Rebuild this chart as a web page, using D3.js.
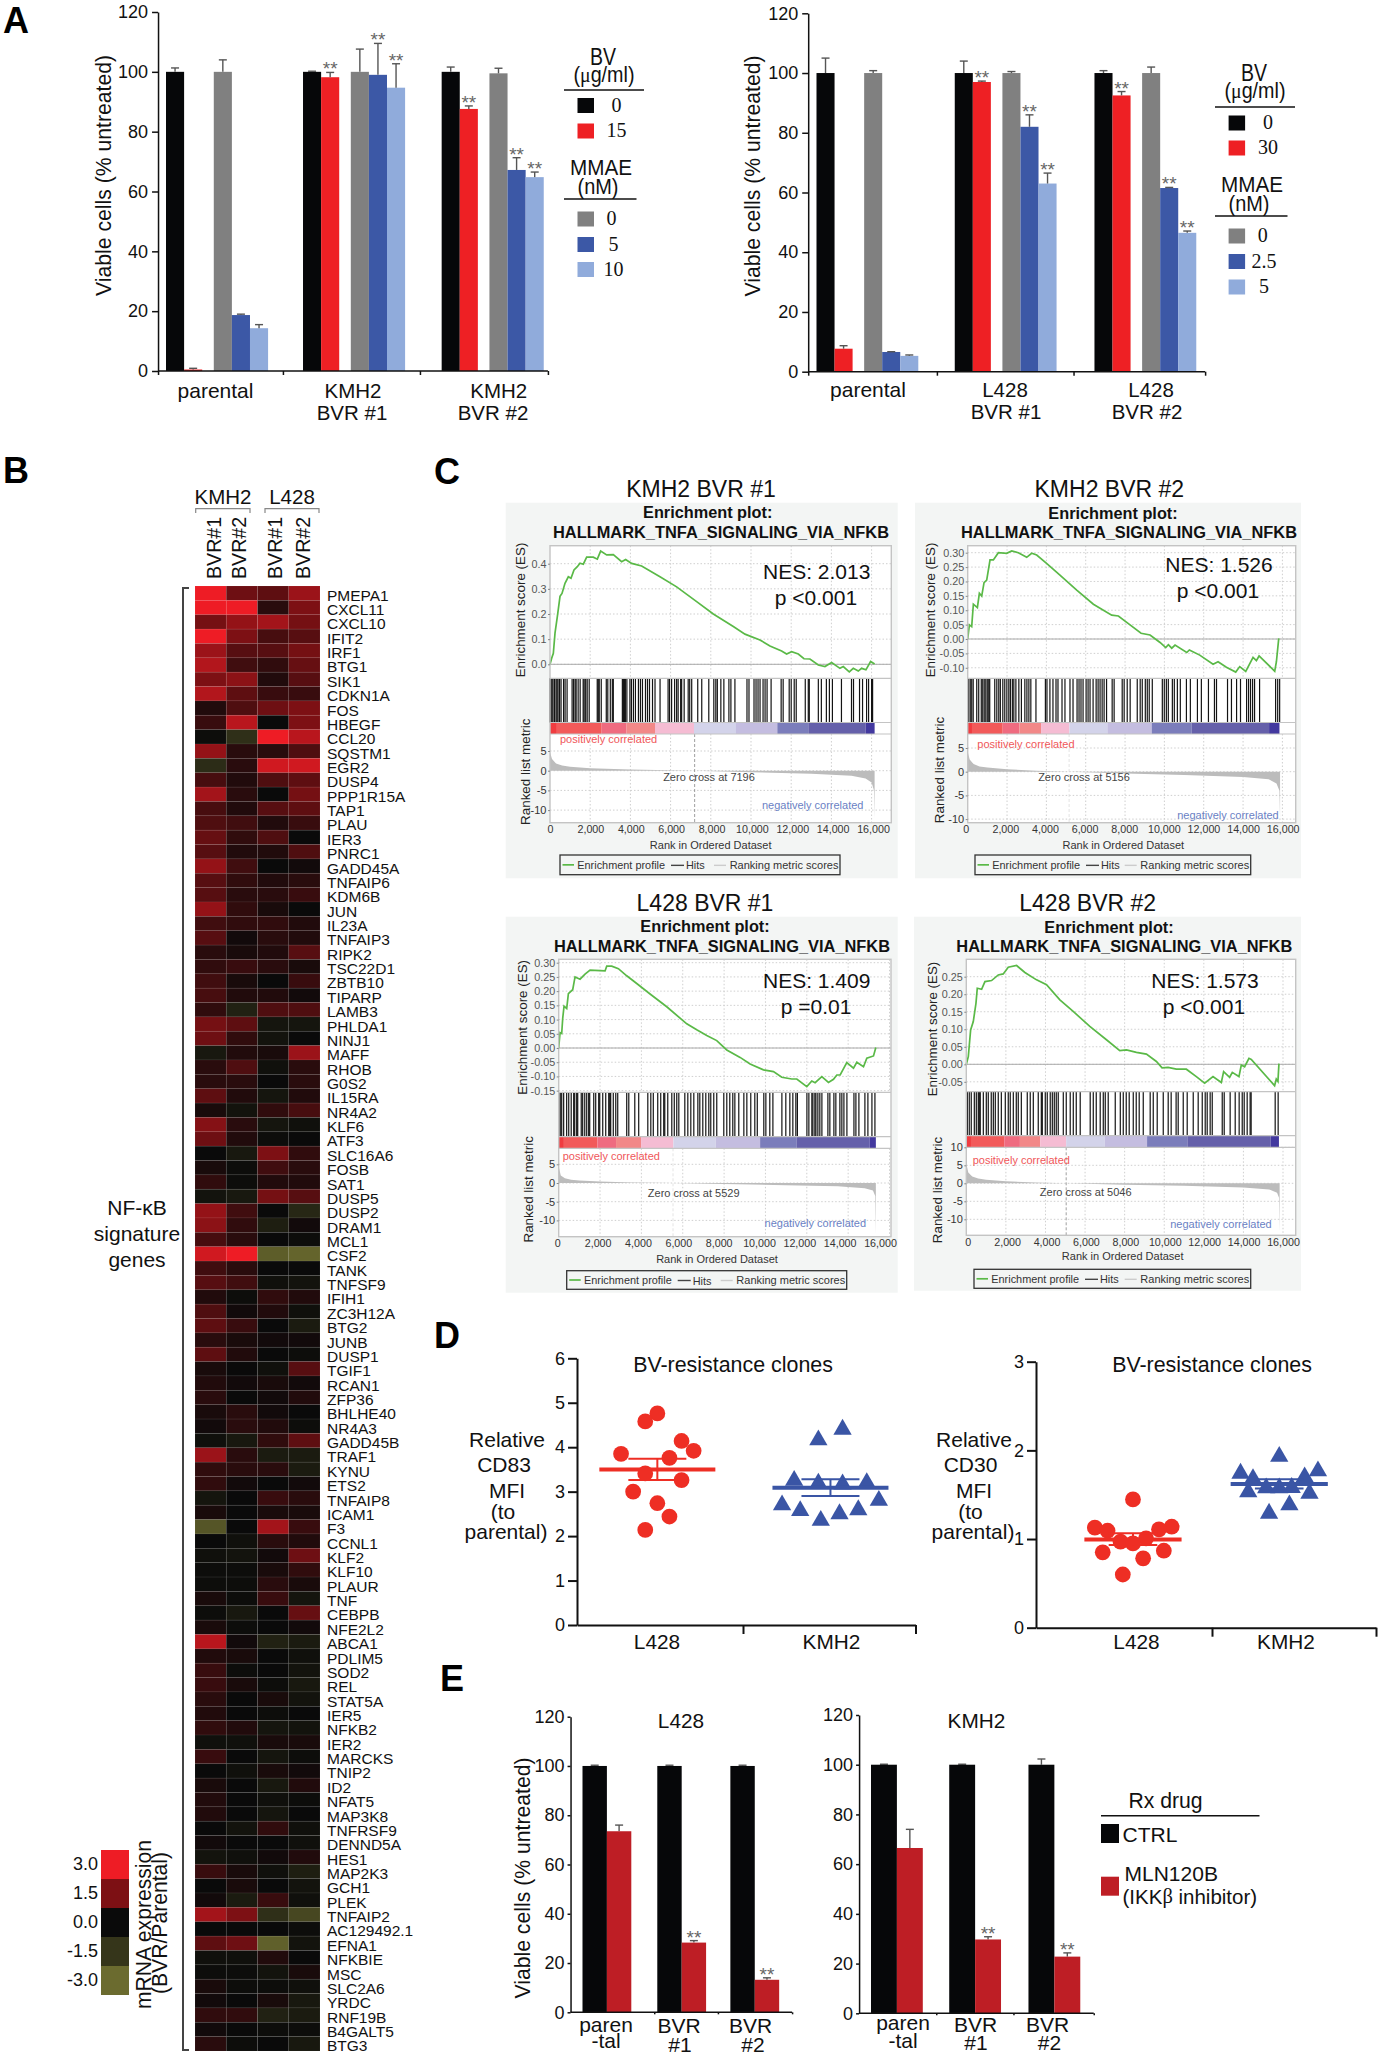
<!DOCTYPE html>
<html><head><meta charset="utf-8">
<style>html,body{margin:0;padding:0;background:#fff}svg{display:block}text{font-family:"Liberation Sans",Arial,sans-serif;fill:#111}</style>
<script src="https://cdn.jsdelivr.net/npm/d3@7/dist/d3.min.js"></script></head><body>
<script>
// ---------- Panel A data ----------
const seriesColors=["#060709","#ee2024","#808080","#3c58a6","#90abdb"];
const kmh2Values=[[100,0.5,100,18.7,14.3],[100,98.2,100,99,94.7],[100,87.6,99.5,67.2,64.8]];
const kmh2ErrTop=[[101.3,0.9,104,19,15.5],[100.2,99.8,107.6,109.5,102.7],[101.6,88.6,101.2,71.3,66.5]];
const kmh2Stars=[[],[1,3,4],[1,3,4]];
const l428Values=[[100,7.7,100,6.6,5.3],[100,97,100,82,63],[100,92.5,100,61.5,46.5]];
const l428ErrTop=[[105,8.7,100.8,6.7,5.6],[104,97.3,100.5,86,66.5],[100.8,93.8,102,61.7,47.1]];
const l428Stars=[[],[1,3,4],[1,3,4]];
const barTicks=[0,20,40,60,80,100,120];
// ---------- Panel B data ----------
const genes=["PMEPA1","CXCL11","CXCL10","IFIT2","IRF1","BTG1","SIK1","CDKN1A","FOS","HBEGF","CCL20","SQSTM1","EGR2","DUSP4","PPP1R15A","TAP1","PLAU","IER3","PNRC1","GADD45A","TNFAIP6","KDM6B","JUN","IL23A","TNFAIP3","RIPK2","TSC22D1","ZBTB10","TIPARP","LAMB3","PHLDA1","NINJ1","MAFF","RHOB","G0S2","IL15RA","NR4A2","KLF6","ATF3","SLC16A6","FOSB","SAT1","DUSP5","DUSP2","DRAM1","MCL1","CSF2","TANK","TNFSF9","IFIH1","ZC3H12A","BTG2","JUNB","DUSP1","TGIF1","RCAN1","ZFP36","BHLHE40","NR4A3","GADD45B","TRAF1","KYNU","ETS2","TNFAIP8","ICAM1","F3","CCNL1","KLF2","KLF10","PLAUR","TNF","CEBPB","NFE2L2","ABCA1","PDLIM5","SOD2","REL","STAT5A","IER5","NFKB2","IER2","MARCKS","TNIP2","ID2","NFAT5","MAP3K8","TNFRSF9","DENND5A","HES1","MAP2K3","GCH1","PLEK","TNFAIP2","AC129492.1","EFNA1","NFKBIE","MSC","SLC2A6","YRDC","RNF19B","B4GALT5","BTG3"];
const heatKmh2Bvr1=[3,3,1.4,3,1.9,2.2,1.5,2.2,.3,.6,-.1,1.8,-1.2,.8,2,.8,.9,1.2,1,1.8,1,1,1.8,.7,1,.4,.5,.7,.8,.5,1.4,1.3,-.5,.4,.4,1.1,.2,1.6,1.3,0,.2,.5,-.3,1.8,1.7,.8,2.6,.7,1,.3,.9,1.1,.4,1.1,.2,.3,.4,.2,.1,-.2,1.9,.5,.5,-.4,.2,-2.4,0,-.2,-.1,-.1,.2,-.1,.2,2.3,.3,.6,.6,.4,.3,.5,-.2,.6,0,.2,.3,.3,0,.1,-.3,.6,0,.1,2,0,1.1,-.2,-.1,.2,.1,.5,.1,.4];
const heatKmh2Bvr2=[1.3,3,1.8,1.5,1,.7,1.7,1.1,.9,2.3,-1.3,.4,.4,.3,.4,.3,.7,.5,.3,.7,.5,.4,.5,.5,.1,.2,.6,.2,.3,-.8,1.1,.5,.3,.9,.4,.3,-.3,.4,.3,-.5,-.1,-.1,-.5,.7,.5,.4,3,.4,.7,-.1,.1,.6,.2,.3,0,.1,0,.4,.4,-.5,.4,.4,.1,0,0,0,-.2,-.3,-.1,-.1,-.1,-.5,-.1,.1,.2,-.1,.2,0,0,.3,-.2,0,-.2,0,0,0,-.3,0,-.2,.2,.2,-.6,1.5,0,1.3,-.2,-.1,-.1,0,.5,0,-.1];
const heatL428Bvr1=[1.1,.4,2,.8,1,.5,.3,.6,1.3,0,3,.4,2.6,.9,0,1,.3,.9,.3,0,.3,.4,.2,.5,.4,.3,.4,0,.3,.9,-.4,-.3,.2,-.2,0,-.4,.5,-.4,-.1,1.5,.7,.3,1.4,0,-.7,0,-2.6,0,-.2,.5,.3,0,.1,0,-.2,.2,.1,.1,.3,.5,-.6,.4,0,.6,.2,2,.4,.1,.2,.4,.6,0,0,-.8,0,0,-.1,.2,-.1,-.4,.2,-.4,.2,-.5,-.2,-.4,.5,0,.1,-.2,0,.6,-1.3,0,-2.7,.3,-.3,-.1,.2,-.8,-.1,0];
const heatL428Bvr2=[1.9,1.5,1.4,1,1.4,1.2,1,.6,1.5,1.5,2.3,.9,2.6,1.1,1.4,1.1,.6,0,.9,.1,.4,.6,0,.3,.3,1,.2,.6,.1,.9,-.4,0,1.9,.4,.4,.3,.8,-.2,0,.5,.4,.3,1,-1,.1,-.1,-2.8,0,-.3,.3,-.2,-.6,.1,-.1,1,.1,.3,0,-.1,1.1,-.6,-.6,.1,.4,.2,.6,.3,1.3,.5,.2,-.4,1.2,.1,-.6,-.2,-.3,-.5,-.3,0,-.3,.2,-.1,.1,.3,-.1,0,-.2,-.2,.3,-.7,-.3,-.2,-2,-.1,-.3,0,.2,-.2,-.5,-.6,-.1,-.5];
const heatColumns=["BVR#1","BVR#2","BVR#1","BVR#2"];
const heatLegendLevels=[3,1.5,0,-1.5,-3];
// ---------- Panel C data ----------
const barSegmentColors=["#f25a5a","#ef6b80","#f28888","#f5bcd3","#d3d3ea","#c4bde0","#7b7dbb","#6560aa","#43399f"];
const p1Rank=[0,83,166,249,365,498,597,746,912,1045,1194,1359,1492,1658,1824,2155,2354,2520,2819,3150,3564,3763,4062,4559,5472,6301,7296,8125,9120,9700,10445,10943,11523,11772,12021,12353,12635,12933,13348,13679,14011,14425,14591,14889,15088,15337,15503,15718,15950,16150];
const p1Es=[0,.024,.044,.124,.19,.27,.282,.322,.348,.342,.375,.388,.402,.398,.426,.426,.418,.45,.435,.436,.408,.417,.401,.391,.348,.308,.249,.2,.15,.12,.097,.073,.053,.041,.05,.041,.022,.021,-.003,-.009,.007,-.016,-.009,-.03,-.016,-.027,-.016,-.022,.011,.001];
const p1Hits=[0,50,100,150,225,300,350,400,475,550,675,750,850,1100,1175,1250,1300,1400,1500,1650,1700,1775,1850,1950,2350,2400,2450,2550,2800,2875,3000,3100,3150,3600,3650,3700,3750,3825,3975,4050,4150,4250,4400,4500,4600,4750,4850,4950,5100,5225,5475,5875,5950,6050,6200,6300,6375,6500,6550,6675,6875,6950,7050,7350,7550,7900,8150,8250,8325,8500,8650,8900,9000,9200,9800,9900,10150,10250,10350,10450,10600,10700,10800,11000,11500,11600,11900,12000,12150,12250,12700,12850,12900,13350,13500,13750,13900,14050,14500,15000,15100,15400,15550,15750,15850,16000,16050];
const p1Segments=[0,2570,3810,5224,7163,9253,11309,12850,15705,16150];
const p1MetricRank=[0,100,300,600,1000,2000,4000,7196,10000,13000,15000,15700,16000,16120,16150];
const p1Metric=[4.7,3,1.8,1.3,1,.65,.3,0,-.4,-.8,-1.3,-2,-3,-5,-12];

const p2Rank=[0,85,203,288,492,593,712,831,966,1136,1305,1559,1983,2237,2576,3000,3254,3508,4010,4690,5543,6390,7322,7661,8254,8813,9271,9780,10068,10203,10373,10542,11136,11271,11797,12475,12729,13153,13627,13831,14136,14508,14678,14814,15610,15695,15814];
const p2Es=[0,.049,.043,.121,.109,.159,.149,.196,.205,.275,.275,.3,.298,.306,.3,.284,.298,.292,.263,.222,.17,.121,.083,.08,.049,.02,.014,-.012,-.03,-.02,-.032,-.021,-.047,-.038,-.056,-.088,-.079,-.098,-.115,-.096,-.113,-.064,-.075,-.059,-.112,-.079,.002];
const p2Hits=[0,50,130,205,280,460,560,690,765,840,920,995,1070,1120,1375,1480,1580,1660,1785,1885,1990,2090,2170,2270,2345,2450,2600,2730,2905,3010,3110,3210,3470,3950,4030,4180,4335,4490,4590,4795,4945,5200,5355,5560,5660,5760,5865,6020,6120,6220,6375,6530,6630,6730,6835,6935,7060,7345,7445,7855,7955,8110,8260,8620,8770,8875,9030,9130,9230,9385,9895,9995,10100,10200,10405,10505,10660,10810,11120,11320,11680,11880,12240,12545,12650,13210,13410,13670,13870,14180,14280,14380,14485,14585,14840,15655,15760,15860];
const p2Segments=[0,1780,2630,3730,5170,7100,9356,11390,15323,15850];
const p2MetricRank=[0,100,300,600,1000,2000,3500,5156,8000,11000,14000,15300,15700,15850,15881];
const p2Metric=[4.2,2.6,1.6,1.1,.9,.5,.2,0,-.4,-.7,-1.1,-1.6,-2.5,-4,-10];

const p3Rank=[0,65,145,194,258,387,468,677,790,1032,1274,1516,2000,2242,2323,2565,2887,3290,3774,4419,5226,6194,6677,7161,7645,8129,8774,9258,9903,10387,10790,11274,11516,12000,12242,12403,12726,13048,13290,13452,13613,13935,14258,14419,14742,14903,15226,15340];
const p3Es=[0,.054,.051,.104,.147,.139,.191,.205,.25,.242,.26,.274,.272,.271,.288,.288,.279,.254,.227,.19,.145,.085,.064,.044,.026,-.007,-.033,-.056,-.077,-.083,-.103,-.109,-.109,-.136,-.116,-.122,-.101,-.121,-.11,-.095,-.095,-.051,-.071,-.05,-.066,-.036,-.028,.002];
const p3Hits=[0,75,145,240,385,485,605,725,775,870,920,1090,1160,1260,1355,1450,1500,1695,1790,1935,1985,2130,2275,2420,2470,2515,2640,2760,2855,3290,3390,3680,3870,4310,4455,4575,4790,4935,5080,5130,5275,5470,5590,5710,5810,6100,6245,6390,6535,6730,6825,6970,7115,7260,7355,7500,7645,7985,8130,8275,8420,8520,8710,8955,9100,9290,9485,9605,9920,10020,10210,10360,10795,10985,11180,11325,11470,11545,12005,12100,12245,12295,12390,12440,12535,12630,12730,13020,13115,13310,13405,13600,13695,13795,13940,14280,14375,14520,14810,14955,15150,15295];
const p3Segments=[0,1871,2774,3984,5548,7597,9742,11516,15032,15340];
const p3MetricRank=[0,100,300,600,1000,2000,3500,5529,8000,11000,13500,14800,15200,15310,15340];
const p3Metric=[4.4,2,1.3,.9,.7,.4,.15,0,-.3,-.6,-.9,-1.4,-2,-3.5,-13.5];

const p4Rank=[0,101,219,353,488,555,774,942,1278,1615,1867,2119,2540,2960,3549,4054,4727,5400,6240,7081,7754,8091,8595,9100,9604,9890,10193,10613,11118,11622,12043,12463,12884,13001,13304,13439,13775,13893,14061,14280,14398,15576,15660,15744,15795];
const p4Es=[0,.022,.098,.122,.174,.217,.214,.236,.239,.255,.258,.277,.282,.262,.241,.227,.184,.151,.108,.07,.039,.041,.034,.029,.008,-.01,-.009,-.014,-.014,-.035,-.054,-.035,-.052,-.021,-.037,-.023,-.035,-.002,-.007,.017,.014,-.061,-.042,-.049,.002];
const p4Hits=[50,150,250,405,505,605,655,705,860,1010,1110,1260,1365,1465,1615,1770,1970,2120,2220,2375,2525,2625,2780,3080,3230,3385,3635,3790,3840,3990,4090,4240,4345,4445,4545,4645,4900,5050,5250,5405,5555,5755,6260,6415,6565,6765,6920,7020,7170,7525,7780,7930,8080,8230,8435,8585,8735,8940,9290,9445,9645,9950,10200,10350,10600,10705,10960,11160,11465,11715,11920,12070,12170,12320,12425,12930,13030,13330,13585,13785,13940,14040,14190,14340,14390,15605,15755];
const p4Segments=[0,1917,2708,3734,5046,7000,9133,11168,15373,15795];
const p4MetricRank=[0,100,300,600,1000,2000,3500,5046,8000,11000,14000,15300,15700,15800,15830];
const p4Metric=[5.6,3,1.9,1.3,1,.6,.2,0,-.4,-.7,-1.2,-1.7,-2.6,-4,-13.5];
const rankTicks=[0,2000,4000,6000,8000,10000,12000,14000,16000];
// ---------- Panel D data ----------
const cd83L428=[4.76,4.58,4.14,3.92,3.85,3.76,3.41,3.26,3.0,2.74,2.44,2.14];
const cd83L428Slot=[0,-1,2,3,-3,1,-1,2,-2,0,1,-1];
const cd83Kmh2=[4.40,4.16,3.25,3.19,3.17,3.2,2.7,2.8,2.57,2.59,2.5,2.35];
const cd83Kmh2Slot=[1,-1,-3,-1,1,3,-4,4,-2.5,2.3,.75,-.8];
const cd30L428=[1.447,1.128,1.094,1.139,1.109,1.008,.97,.951,.85,.868,.782,.6];
const cd30L428Slot=[0,-3.15,-2.1,3.2,2.15,1.08,-1.03,0,-2.5,2.55,.84,-.84];
const cd30Kmh2=[1.93,1.74,1.767,1.68,1.7,1.575,1.575,1.58,1.53,1.515,1.383,1.289];
const cd30Kmh2Slot=[0,-3.2,3.2,-2.17,2.1,-1.08,0,1.03,-2.56,2.5,.84,-.84];
const cd83Stats=[[3.5,3.26,3.74],[3.09,2.9,3.28]];
const cd30Stats=[[.996,.932,1.064],[1.62,1.571,1.673]];
// ---------- Panel E data ----------
const eGroups=[["paren","-tal"],["BVR","#1"],["BVR","#2"]];
const eL428Values=[[100,73.5],[100,28.3],[100,13.2]];
const eL428Err=[[100.3,76],[100.3,29.1],[100.3,14]];
const eKmh2Values=[[100,66.5],[100,29.7],[100,22.8]];
const eKmh2Err=[[100.2,74],[100.2,30.8],[102.3,24.3]];
const eColors=["#060709","#be1e25"];

// ---------- helpers ----------
const fmt=f=>{const h=d3.format(f);return d=>h(d).replace("\u2212","-");};
const svg=d3.select("body").append("svg").attr("width",1380).attr("height",2054).attr("viewBox","0 0 1380 2054");
svg.append("rect").attr("width",1380).attr("height",2054).attr("fill","#fff");
function T(x,y,s,o={}){
  const t=svg.append("text").attr("x",x).attr("y",y).attr("dominant-baseline","central")
    .attr("text-anchor",o.a||"middle").attr("font-size",o.s||20).text(s);
  if(o.w)t.attr("font-weight",o.w);
  if(o.c)t.style("fill",o.c);
  if(o.f)t.style("font-family",o.f);
  if(o.r)t.attr("transform",`rotate(${o.r} ${x} ${y})`);
  if(o.tl)t.attr("textLength",o.tl).attr("lengthAdjust","spacingAndGlyphs");
  return t;
}
const SERIF='"Liberation Serif",serif';
function line(x1,y1,x2,y2,c="#111",w=1.5){svg.append("line").attr("x1",x1).attr("y1",y1).attr("x2",x2).attr("y2",y2).attr("stroke",c).attr("stroke-width",w);}
function styleAxis(g,size,w=1.5){g.selectAll("path,line").attr("stroke","#111").attr("stroke-width",w);g.selectAll("text").attr("font-size",size).style("fill","#111");}
[["A",16,20],["B",16,470],["C",447,471],["D",447,1335],["E",452,1678]].forEach(d=>T(d[1],d[2],d[0],{s:36,w:"bold",c:"#000"}));

// ---------- grouped bars ----------
function bars(c){
  const g=svg.append("g");
  const x=d3.scaleLinear().domain([0,1]).range([c.x0,c.x0+c.slot]);
  const y=d3.scaleLinear().domain([0,120]).range([c.y0,c.y120]);
  c.values.forEach((vals,i)=>vals.forEach((v,j)=>{
    const left=x(c.groupSlots[i]+c.seriesSlots[j]), cx=left+c.slot/2, err=c.err[i][j];
    line(cx,y(v),cx,y(err),"#555",1.4);
    line(cx-4,y(err),cx+4,y(err),"#555",1.4);
    g.append("rect").attr("x",left).attr("width",c.slot).attr("y",y(v)).attr("height",y(0)-y(v)).attr("fill",c.colors[j]);
    if(c.stars[i].includes(j))T(cx,y(err)+3,"**",{s:19,c:"#666"}).attr("dominant-baseline","auto");
  }));
  const gy=svg.append("g").attr("transform",`translate(${x(c.axisL)},0)`).call(d3.axisLeft(y).tickValues(barTicks).tickSize(6).tickSizeOuter(0).tickPadding(c.pad||3));
  styleAxis(gy,18);
  const gx=svg.append("g").attr("transform",`translate(0,${y(0)})`).call(d3.axisBottom(x).tickValues(c.xTicks).tickSize(4).tickSizeOuter(0).tickFormat(""));
  styleAxis(gx,18);
  gx.select("path").attr("d",`M${x(c.axisL)},0H${x(c.xTicks[c.xTicks.length-1])}`);
}
const s5=[0,1,2.64,3.64,4.64];
bars({x0:166,slot:18.1,y0:371,y120:12,values:kmh2Values,err:kmh2ErrTop,stars:kmh2Stars,colors:seriesColors,groupSlots:[0,7.57,15.23],seriesSlots:s5,axisL:-.44,xTicks:[-.44,6.46,14.03,21.1],pad:4});
bars({x0:816.5,slot:18.05,y0:371.7,y120:13.3,values:l428Values,err:l428ErrTop,stars:l428Stars,colors:seriesColors,groupSlots:[0,7.66,15.4],seriesSlots:s5,axisL:-.46,xTicks:[-.46,6.67,14.24,21.53],pad:4});
T(103,175.5,"Viable cells (% untreated)",{s:21.2,r:-90});
T(752,176,"Viable cells (% untreated)",{s:21.2,r:-90});
T(215.5,390,"parental",{s:21});T(353,390,"KMH2",{s:20.5});T(352,412,"BVR #1",{s:20.5});T(498.7,390,"KMH2",{s:20.5});T(493,412,"BVR #2",{s:20.5});
T(868,389,"parental",{s:21});T(1005,389,"L428",{s:20.5});T(1006,411,"BVR #1",{s:20.5});T(1151,389,"L428",{s:20.5});T(1147,411,"BVR #2",{s:20.5});
function mu(x,y){const t=T(x,y,"",{s:22});t.append("tspan").text("(");t.append("tspan").style("font-family",SERIF).text("μ");t.append("tspan").text("g/ml)");t.attr("textLength",61).attr("lengthAdjust","spacingAndGlyphs");}
function barLegend(o){
  T(o.bx,o.by,"BV",{s:23,tl:26});mu(o.bx+1,o.by+17);
  line(o.rx,o.r1,o.rx+80,o.r1,"#111",1.6);
  T(o.bx-2,o.my,"MMAE",{s:22,tl:62});T(o.bx-5,o.my+19,"(nM)",{s:22,tl:41});
  line(o.rx,o.r2,o.rx+72.5,o.r2,"#111",1.6);
  o.items.forEach(it=>{
    svg.append("rect").attr("x",o.sx).attr("y",it[0]-7.5).attr("width",16.5).attr("height",15).attr("fill",seriesColors[it[1]]);
    T(it[3],it[0]-1+it[4],it[2],{s:20,f:SERIF});
  });
}
barLegend({bx:603,by:57,rx:564,r1:90,r2:199,my:167,sx:577.5,items:[[105.5,0,"0",616.5,0],[131,1,"15",616.5,0],[219,2,"0",611.5,0],[244.5,3,"5",613.5,0],[269.5,4,"10",613.5,0]]});
barLegend({bx:1254,by:73,rx:1215,r1:107,r2:216,my:184,sx:1228.6,items:[[123,0,"0",1268,0],[148,1,"30",1268,0],[236,2,"0",1262.7,0],[261.5,3,"2.5",1264,0],[287,4,"5",1264,0]]});

// ---------- heat map ----------
const heatColor=d3.scaleLinear().domain([-3,-1.5,0,1.5,3]).range(["#6b6b2f","#35351a","#0a0a0a","#7d1014","#ee1c25"]).clamp(true);
const heatCols=[heatKmh2Bvr1,heatKmh2Bvr2,heatL428Bvr1,heatL428Bvr2];
const xHeat=d3.scaleBand().domain(d3.range(4)).range([195,320]);
const yHeat=d3.scaleBand().domain(genes).range([586,2051]);
const hg=svg.append("g");
heatCols.forEach((col,i)=>col.forEach((v,r)=>{
  hg.append("rect").attr("x",xHeat(i)).attr("y",yHeat(genes[r])).attr("width",xHeat.bandwidth()).attr("height",yHeat.bandwidth())
    .attr("fill",heatColor(v)).attr("stroke","rgba(255,255,255,.07)").attr("stroke-width",.8);
}));
genes.forEach(g=>T(327,yHeat(g)+yHeat.bandwidth()/2+2,g,{a:"start",s:15.5}));
T(223,496,"KMH2",{s:20.5});T(292,496,"L428",{s:20.5});
[[195.7,250],[265,319]].forEach(b=>svg.append("path").attr("d",`M${b[0]},513V508.7H${b[1]}V513`).attr("fill","none").attr("stroke","#888").attr("stroke-width",1.2));
[214,239,275,303].forEach((x,i)=>T(x,579,heatColumns[i],{a:"start",s:19.6,r:-90}));
svg.append("path").attr("d","M189,588H183V2050H189").attr("fill","none").attr("stroke","#444").attr("stroke-width",2);
T(137,1207,"NF-κB",{s:21});T(137,1233,"signature",{s:21});T(137,1259,"genes",{s:21});
const yLeg=d3.scaleBand().domain(heatLegendLevels).range([1850,1995]);
heatLegendLevels.forEach(v=>{
  svg.append("rect").attr("x",101).attr("y",yLeg(v)).attr("width",28).attr("height",yLeg.bandwidth()).attr("fill",heatColor(v));
  T(98,yLeg(v)+yLeg.bandwidth()/2-1,fmt(".1f")(v),{a:"end",s:18});
});
T(143,1924.5,"mRNA expression",{s:22,r:-90,tl:169});T(159,1923,"(BVR/Parental)",{s:22,r:-90,tl:142});

// ---------- GSEA ----------
function gsea(c){
  const g=svg.append("g");
  g.append("rect").attr("x",c.bg[0]).attr("y",c.bg[1]).attr("width",c.bg[2]-c.bg[0]).attr("height",c.bg[3]-c.bg[1]).attr("fill","#f3f5f4");
  const [fl,fr,ft,es,ht,bar,fb]=c.frame;
  g.append("rect").attr("x",fl).attr("y",ft).attr("width",fr-fl).attr("height",fb-ft).attr("fill","#fff");
  const x=d3.scaleLinear().domain([0,16000]).range([fl,c.x16]);
  const lab=d3.scaleLinear().domain([0,16000]).range(c.labelRange);
  const yE=d3.scaleLinear().domain([0,c.esRef]).range(c.esRange);
  const yR=d3.scaleLinear().domain([0,5]).range(c.rkRange);
  const dot=(x1,y1,x2,y2)=>g.append("line").attr("x1",x1).attr("y1",y1).attr("x2",x2).attr("y2",y2).attr("stroke","#cfcfcf").attr("stroke-width",1).attr("stroke-dasharray","1.5,2");
  rankTicks.slice(1).forEach(r=>{dot(x(r),ft,x(r),es);dot(x(r),bar,x(r),fb);});
  c.esTicks.forEach(t=>dot(fl,yE(t),fr,yE(t)));
  c.rkTicks.forEach(t=>dot(fl,yR(t),fr,yR(t)));
  g.append("line").attr("x1",fl).attr("x2",fr).attr("y1",yE(0)).attr("y2",yE(0)).attr("stroke","#aaa").attr("stroke-width",1);
  g.append("path").datum(c.metricRank.map((r,i)=>[r,c.metric[i]])).attr("fill","#bcbcbc")
    .attr("d",d3.area().x(d=>x(d[0])).y0(yR(0)).y1(d=>yR(d[1])));
  g.append("line").attr("x1",x(c.zero)).attr("x2",x(c.zero)).attr("y1",bar).attr("y2",fb).attr("stroke",c.zeroCol).attr("stroke-width",.8).attr("stroke-dasharray","3,2");
  g.selectAll(null).data(c.hits).enter().append("line").attr("x1",d=>x(d)).attr("x2",d=>x(d)).attr("y1",es).attr("y2",ht).attr("stroke","#000").attr("stroke-width",1.2).attr("opacity",.92);
  barSegmentColors.forEach((col,i)=>g.append("rect").attr("x",x(c.segs[i])).attr("y",ht).attr("width",x(c.segs[i+1])-x(c.segs[i])).attr("height",bar-ht).attr("fill",col));
  g.append("rect").attr("x",x(0)).attr("y",ht).attr("width",x(c.segs[1]*.12)-x(0)).attr("height",bar-ht).attr("fill","#f03c40");
  g.append("path").datum(c.rank.map((r,i)=>[r,c.es[i]])).attr("fill","none").attr("stroke","#5ab947").attr("stroke-width",1.7)
    .attr("d",d3.line().x(d=>x(d[0])).y(d=>yE(d[1])));
  [es,ht,bar].forEach(y=>g.append("line").attr("x1",fl).attr("x2",fr).attr("y1",y).attr("y2",y).attr("stroke","#c4c4c4").attr("stroke-width",1.2));
  g.append("rect").attr("x",fl).attr("y",ft).attr("width",fr-fl).attr("height",fb-ft).attr("fill","none").attr("stroke","#c4c4c4").attr("stroke-width",1.4);
  const ax=(sel,size,col)=>{sel.select(".domain").remove();sel.selectAll("line").attr("stroke","#888");sel.selectAll("text").attr("font-size",size).style("fill",col);};
  ax(svg.append("g").attr("transform",`translate(${fl},0)`).call(d3.axisLeft(yE).tickValues(c.esTicks).tickSize(2).tickPadding(1.5).tickFormat(fmt(c.esFmt))),10.8,"#555");
  ax(svg.append("g").attr("transform",`translate(${fl},0)`).call(d3.axisLeft(yR).tickValues(c.rkTicks).tickSize(2).tickPadding(1.5).tickFormat(d=>d)),11,"#333");
  ax(svg.append("g").attr("transform",`translate(0,${fb})`).call(d3.axisBottom(lab).tickValues(rankTicks).tickSize(0).tickPadding(c.xPad).tickFormat(d3.format(","))),10.7,"#333");
  T(c.title[0],c.title[1],c.title[2],{s:23});
  T(c.ep[0],c.ep[1],"Enrichment plot:",{s:16.3,w:"bold"});
  T(c.hm[0],c.hm[1],"HALLMARK_TNFA_SIGNALING_VIA_NFKB",{s:16.3,w:"bold",tl:336});
  T(c.nes[0],c.nes[1],c.nes[2],{s:21});
  T(c.pv[0],c.pv[1],c.pv[2],{s:21});
  T(c.esL[0],c.esL[1],"Enrichment score (ES)",{s:13.4,r:-90,c:"#222"});
  T(c.rkL[0],c.rkL[1],"Ranked list metric",{s:13.4,r:-90,c:"#222"});
  T(c.pos[0],c.pos[1],"positively correlated",{s:11,a:"start",c:"#f0575a"});
  T(c.zt[0],c.zt[1],"Zero cross at "+c.zero,{s:11,c:"#444"});
  T(c.neg[0],c.neg[1],"negatively correlated",{s:11,c:"#6a7fc4"});
  T(c.rt[0],c.rt[1],"Rank in Ordered Dataset",{s:11,c:"#333"});
  const [lx,ly,lr,lb]=c.leg, my=(ly+lb)/2;
  g.append("rect").attr("x",lx).attr("y",ly).attr("width",lr-lx).attr("height",lb-ly).attr("fill","#f3f5f4").attr("stroke","#333").attr("stroke-width",1.3);
  g.append("line").attr("x1",lx+2.5).attr("x2",lx+14).attr("y1",my).attr("y2",my).attr("stroke","#5ab947").attr("stroke-width",1.7);
  T(lx+17.3,my,"Enrichment profile",{s:10.9,a:"start",c:"#333"});
  g.append("line").attr("x1",lx+111).attr("x2",lx+124).attr("y1",my+.5).attr("y2",my+.5).attr("stroke","#444").attr("stroke-width",1.4);
  T(lx+126,my+.5,"Hits",{s:10.9,a:"start",c:"#333"});
  g.append("line").attr("x1",lr-126).attr("x2",lr-114).attr("y1",my+.5).attr("y2",my+.5).attr("stroke","#ccc").attr("stroke-width",1.4);
  T(lr-1.5,my,"Ranking metric scores",{s:11,a:"end",c:"#333"});
}
gsea({bg:[505.7,502.7,897.7,878.3],frame:[550,891.3,545.7,678.3,722.5,734,822.7],x16:871.6,labelRange:[550,873],xPad:3,zeroCol:"#888",
  esRef:.4,esRange:[664.3,563.7],esTicks:[0,.1,.2,.3,.4],esFmt:".1f",rkRange:[770.7,751],rkTicks:[-10,-5,0,5],
  rank:p1Rank,es:p1Es,hits:p1Hits,segs:p1Segments,metricRank:p1MetricRank,metric:p1Metric,zero:7196,
  title:[701,489,"KMH2 BVR #1"],ep:[707.7,512],hm:[721,531.7],nes:[816.7,571,"NES: 2.013"],pv:[816,597,"p <0.001"],esL:[520.7,610],rkL:[526,771.7],
  pos:[560,739],zt:[709,776.7],neg:[812.7,805],rt:[710.7,844.7],leg:[560,855,840,874.7]});
gsea({bg:[915,502.7,1301,878.3],frame:[967.7,1295.7,545.7,678.3,722.5,734,822.7],x16:1282.4,labelRange:[965.7,1282.7],xPad:3,zeroCol:"#ddd",
  esRef:.3,esRange:[639,552.7],esTicks:[-.1,-.05,0,.05,.1,.15,.2,.25,.3],esFmt:".2f",rkRange:[771.7,748],rkTicks:[-10,-5,0,5],
  rank:p2Rank,es:p2Es,hits:p2Hits,segs:p2Segments,metricRank:p2MetricRank,metric:p2Metric,zero:5156,
  title:[1109.3,489,"KMH2 BVR #2"],ep:[1113,513],hm:[1129,532],nes:[1219,564,"NES: 1.526"],pv:[1218,590,"p <0.001"],esL:[930.7,610],rkL:[939.3,770],
  pos:[977.3,744],zt:[1084,776.7],neg:[1228,815],rt:[1123.3,844.7],leg:[975,855,1250.7,874.7]});
gsea({bg:[505.7,916.7,897.7,1292.7],frame:[558.7,891,959.3,1092.3,1136.7,1148.3,1236.7],x16:889.5,labelRange:[557.3,880],xPad:3,zeroCol:"#ddd",
  esRef:.3,esRange:[1048,962.7],esTicks:[-.15,-.1,-.05,0,.05,.1,.15,.2,.25,.3],esFmt:".2f",rkRange:[1183,1164.3],rkTicks:[-10,-5,0,5],
  rank:p3Rank,es:p3Es,hits:p3Hits,segs:p3Segments,metricRank:p3MetricRank,metric:p3Metric,zero:5529,
  title:[705,902.7,"L428 BVR #1"],ep:[705,926],hm:[722,945.7],nes:[816.7,980,"NES: 1.409"],pv:[816,1006,"p =0.01"],esL:[522.7,1027.3],rkL:[528.3,1189.3],
  pos:[562.7,1156],zt:[693.7,1193],neg:[815.3,1222.7],rt:[717,1259.3],leg:[566.7,1270.7,846.7,1289.3]});
gsea({bg:[914,916.7,1301,1290.7],frame:[966.3,1295.7,959.3,1091.7,1135.7,1147.3,1235.3],x16:1283,labelRange:[967.7,1283],xPad:3,zeroCol:"#888",
  esRef:.25,esRange:[1064.3,976.7],esTicks:[-.05,0,.05,.1,.15,.2,.25],esFmt:".2f",rkRange:[1183.3,1165.3],rkTicks:[-10,-5,0,5,10],
  rank:p4Rank,es:p4Es,hits:p4Hits,segs:p4Segments,metricRank:p4MetricRank,metric:p4Metric,zero:5046,
  title:[1087.7,902.7,"L428 BVR #2"],ep:[1109,926.7],hm:[1124.3,946],nes:[1205,980,"NES: 1.573"],pv:[1204,1006,"p <0.001"],esL:[932.3,1029],rkL:[937.3,1190],
  pos:[972.7,1160],zt:[1085.7,1191.7],neg:[1221,1223.7],rt:[1122.7,1256.3],leg:[974,1269.3,1250.7,1288.3]});

// ---------- scatter panels ----------
function scatter(c){
  const y=d3.scaleLinear().domain([0,c.max]).range([c.y0,c.yTop]);
  const x=d3.scaleLinear().domain([0,1,2]).range(c.xEdges);
  const gy=svg.append("g").attr("transform",`translate(${c.xEdges[0]},0)`).call(d3.axisLeft(y).ticks(c.max).tickSize(9).tickSizeOuter(0).tickPadding(3));
  styleAxis(gy,18,2);
  const gx=svg.append("g").attr("transform",`translate(0,${c.y0})`).call(d3.axisBottom(x).tickValues([1,2]).tickSize(9).tickSizeOuter(0).tickFormat(""));
  styleAxis(gx,18,2);
  const draw=(cx,vals,slots,col,sym)=>{
    vals.forEach((v,i)=>{svg.append("path").attr("d",d3.symbol().type(sym).size(sym===d3.symbolCircle?195:145)()).attr("fill",col)
      .attr("transform",`translate(${cx+slots[i]*12.1},${y(v)})`);});
  };
  const stats=(cx,s,col)=>{
    line(cx-c.hw,y(s[0]),cx+c.hw,y(s[0]),col,4);
    line(cx-c.hw/2,y(s[1]),cx+c.hw/2,y(s[1]),col,2);
    line(cx-c.hw/2,y(s[2]),cx+c.hw/2,y(s[2]),col,2);
    line(cx,y(s[1]),cx,y(s[2]),col,2);
  };
  draw(x(c.cx[0]),c.a,c.aSlot,"#ee2e24",d3.symbolCircle);
  draw(x(c.cx[1]),c.b,c.bSlot,"#3a55a5",d3.symbolTriangle);
  stats(x(c.cx[0]),c.stats[0],"#ee2e24");
  stats(x(c.cx[1]),c.stats[1],"#3a55a5");
}
scatter({max:6,y0:1625,yTop:1358.3,xEdges:[577,743,915.5],cx:[.484,1.507],a:cd83L428,aSlot:cd83L428Slot,b:cd83Kmh2,bSlot:cd83Kmh2Slot,stats:cd83Stats,hw:58});
scatter({max:3,y0:1627.7,yTop:1361.7,xEdges:[1036,1212,1376],cx:[.551,1.41],a:cd30L428,aSlot:cd30L428Slot,b:cd30Kmh2,bSlot:cd30Kmh2Slot,stats:cd30Stats,hw:48.6});
T(733,1365,"BV-resistance clones",{s:21.4});T(1212,1365,"BV-resistance clones",{s:21.4});
T(657,1641.7,"L428",{s:20.8});T(831.5,1641.7,"KMH2",{s:20.8});T(1136.5,1641.7,"L428",{s:20.8});T(1286,1641.7,"KMH2",{s:20.8});
[["Relative",507,1439],["CD83",504,1464],["MFI",507,1490],["(to",503,1511.7],["parental)",506,1531.7],["Relative",974,1439],["CD30",970.5,1464],["MFI",974,1490],["(to",970.5,1511.7],["parental)",973,1531.7]].forEach(d=>T(d[1],d[2],d[0],{s:21}));

// ---------- panel E ----------
function ebars(c){
  const x=d3.scaleLinear().domain([0,1]).range([c.x0,c.x0+c.slot]);
  const y=d3.scaleLinear().domain([0,120]).range([c.y0,c.y120]);
  c.values.forEach((vals,i)=>vals.forEach((v,j)=>{
    const left=x(c.groupSlots[i]+j), cx=left+c.slot/2, err=c.err[i][j];
    line(cx,y(v),cx,y(err),"#555",1.4);line(cx-4,y(err),cx+4,y(err),"#555",1.4);
    svg.append("rect").attr("x",left).attr("width",c.slot).attr("y",y(v)).attr("height",y(0)-y(v)).attr("fill",eColors[j]);
    if(j===1&&i>0)T(cx,y(err)+3,"**",{s:19,c:"#666"}).attr("dominant-baseline","auto");
  }));
  const gy=svg.append("g").attr("transform",`translate(${x(c.axisL)},0)`).call(d3.axisLeft(y).tickValues(barTicks).tickSize(3).tickSizeOuter(0).tickPadding(3));
  styleAxis(gy,18);
  const gx=svg.append("g").attr("transform",`translate(0,${y(0)})`).call(d3.axisBottom(x).tickValues(c.xTicks).tickSize(2).tickSizeOuter(0).tickFormat(""));
  styleAxis(gx,18);
  gx.select("path").attr("d",`M${x(c.axisL)},0H${x(c.xTicks[c.xTicks.length-1])}`);
}
ebars({x0:582.5,slot:24.4,y0:2012.3,y120:1716.7,values:eL428Values,err:eL428Err,groupSlots:[0,3.065,6.06],axisL:-.49,xTicks:[2.94,5.55,8.59]});
ebars({x0:871,slot:25.9,y0:2013.3,y120:1715,values:eKmh2Values,err:eKmh2Err,groupSlots:[0,3.02,6.08],axisL:-.46,xTicks:[2.52,5.5,8.6]});
T(522,1878,"Viable cells (% untreated)",{s:21.2,r:-90});
T(681,1720,"L428",{s:20.8});T(976.5,1720,"KMH2",{s:20.8});
[[606,2024,0,0],[606,2040.7,0,1],[679,2025.7,1,0],[680,2044,1,1],[750.5,2025.7,2,0],[753,2044,2,1],[903,2022,0,0],[903,2040,0,1],[975.5,2024,1,0],[976,2042,1,1],[1047.5,2024,2,0],[1049.5,2042,2,1]].forEach(d=>T(d[0],d[1],eGroups[d[2]][d[3]],{s:21}));
T(1165.5,1800,"Rx drug",{s:21.2});line(1101,1815.7,1259.5,1815.7,"#111",1.6);
svg.append("rect").attr("x",1101).attr("y",1824).attr("width",18).attr("height",19).attr("fill",eColors[0]);
svg.append("rect").attr("x",1101).attr("y",1876.7).attr("width",18).attr("height",19).attr("fill",eColors[1]);
T(1122.5,1834,"CTRL",{s:21,a:"start"});T(1124.5,1873,"MLN120B",{s:21,a:"start"});
const ik=T(1122.5,1896,"",{s:20.5,a:"start"});ik.append("tspan").text("(IKK");ik.append("tspan").style("font-family",SERIF).text("β");ik.append("tspan").text(" inhibitor)");
</script></body></html>
